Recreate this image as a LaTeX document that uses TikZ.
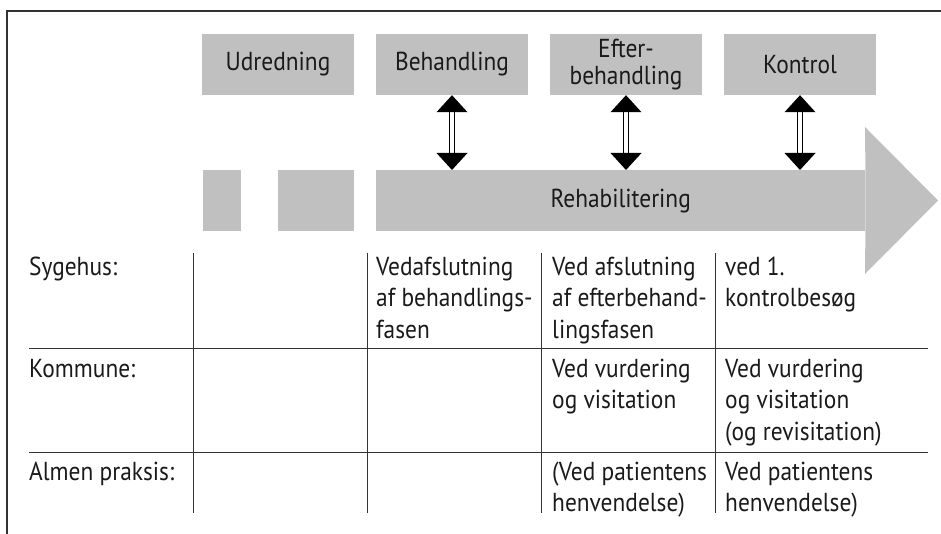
\documentclass[tikz,border=0pt]{standalone}
\usepackage{fontspec}
\setmainfont[FakeStretch=0.9]{PT Sans}
\definecolor{boxgray}{HTML}{C0C0C0}
\definecolor{ink}{HTML}{1A1A1A}
\definecolor{rule}{HTML}{333333}
\newcommand\tstrut{\rule{0pt}{22pt}}
\tikzset{
  phase/.style={fill=boxgray, inner sep=0pt, minimum width=152pt, minimum height=61pt, align=center, text=ink, font=\fontsize{26}{27}\selectfont},
  grayblock/.style={fill=boxgray, inner sep=0pt, minimum height=61pt, anchor=north west},
  cell/.style={anchor=north west, inner sep=0pt, align=left, text=ink, font=\fontsize{26}{31.5}\selectfont},
  gridline/.style={draw=rule, line width=1pt},
  frameline/.style={draw=rule, line width=1.3pt},
  shaft/.style={draw=black, double=white, double distance=4pt, line width=1.1pt},
  tip/.style={fill=black}
}
\begin{document}
\begin{tikzpicture}[x=1pt,y=-1pt]
\useasboundingbox (0,0) rectangle (941,534);
% frame
\draw[frameline] (7,534) -- (7,11) -- (941,11);
% phase boxes
\node[phase] (udr) at (278,64.5) {Udredning};
\node[phase] (beh) at (452,64.5) {Behandling};
\node[phase] (eft) at (626,64.5) {Efter-\\behandling};
\node[phase] (kon) at (800,64.5) {Kontrol};
% lower blocks
\node[grayblock, minimum width=38pt] (b1) at (203,170) {};
\node[grayblock, minimum width=76pt] (b2) at (278,170) {};
\node[grayblock, minimum width=489pt] (rehab) at (376,170) {};
\fill[boxgray] (rehab.north east) -- (865,127) -- (938,200.5) -- (865,274) -- (rehab.south east) -- cycle;
\node[text=ink, font=\fontsize{26}{27}\selectfont] (rehabtxt) at (rehab.center) {Rehabilitering};
% double arrows
\foreach \n in {beh,eft,kon}{
  \draw[shaft] ([yshift=-16pt]\n.south) -- ([yshift=16pt]\n.south |- rehab.north);
  \fill[tip] (\n.south) -- ++(-15.5,17) -- ++(31,0) -- cycle;
  \fill[tip] (\n.south |- rehab.north) -- ++(-15.5,-17) -- ++(31,0) -- cycle;
}
% table grid
\draw[gridline] (29,348) -- (928,348);
\draw[gridline] (29,452) -- (928,452);
\foreach \x in {193,367,541,715}{
  \draw[gridline] (\x,253) -- (\x,513);
}
% row 1
\node[cell] (syg) at (29,253) {\tstrut Sygehus:};
\node[cell] (s3) at (376,253) {\tstrut Vedafslutning\\af behandlings-\\fasen};
\node[cell] (s4) at (552,253) {\tstrut Ved afslutning\\af efterbehand-\\lingsfasen};
\node[cell] (s5) at (725,253) {\tstrut ved 1.\\kontrolbesøg};
% row 2
\node[cell] (kom) at (29,355) {\tstrut Kommune:};
\node[cell] (k4) at (552,355) {\tstrut Ved vurdering\\og visitation};
\node[cell] (k5) at (725,355) {\tstrut Ved vurdering\\og visitation\\(og revisitation)};
% row 3
\node[cell] (alm) at (29,458) {\tstrut Almen praksis:};
\node[cell] (a4) at (552,458) {\tstrut (Ved patientens\\henvendelse)};
\node[cell] (a5) at (725,458) {\tstrut Ved patientens\\henvendelse)};
\end{tikzpicture}
\end{document}
